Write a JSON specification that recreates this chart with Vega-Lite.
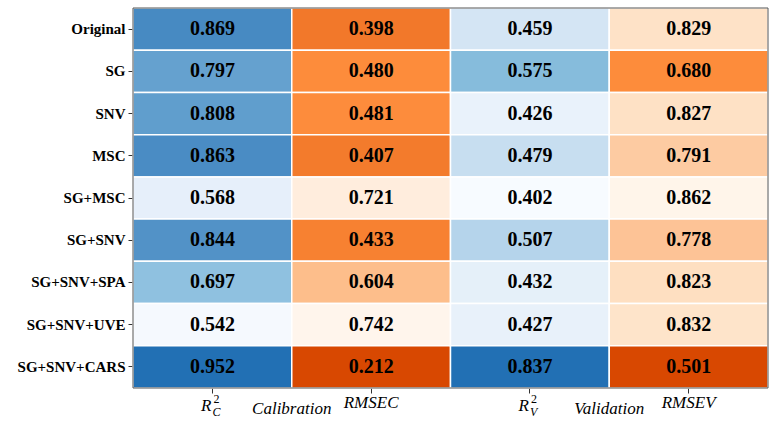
{
  "$schema": "https://vega.github.io/schema/vega-lite/v6.json",
  "autosize": {"type": "none"},
  "padding": {"left": 133, "top": 8, "right": 12, "bottom": 35},
  "width": 635,
  "height": 380,
  "background": "white",
  "config": {
    "view": {"stroke": null},
    "axis": {"zindex": 1},
    "font": "Times New Roman, Liberation Serif, serif"
  },
  "data": {
    "values": [
      {"method": "Original", "metric": "R2C", "value": 0.869},
      {"method": "Original", "metric": "RMSEC", "value": 0.398},
      {"method": "Original", "metric": "R2V", "value": 0.459},
      {"method": "Original", "metric": "RMSEV", "value": 0.829},
      {"method": "SG", "metric": "R2C", "value": 0.797},
      {"method": "SG", "metric": "RMSEC", "value": 0.480},
      {"method": "SG", "metric": "R2V", "value": 0.575},
      {"method": "SG", "metric": "RMSEV", "value": 0.680},
      {"method": "SNV", "metric": "R2C", "value": 0.808},
      {"method": "SNV", "metric": "RMSEC", "value": 0.481},
      {"method": "SNV", "metric": "R2V", "value": 0.426},
      {"method": "SNV", "metric": "RMSEV", "value": 0.827},
      {"method": "MSC", "metric": "R2C", "value": 0.863},
      {"method": "MSC", "metric": "RMSEC", "value": 0.407},
      {"method": "MSC", "metric": "R2V", "value": 0.479},
      {"method": "MSC", "metric": "RMSEV", "value": 0.791},
      {"method": "SG+MSC", "metric": "R2C", "value": 0.568},
      {"method": "SG+MSC", "metric": "RMSEC", "value": 0.721},
      {"method": "SG+MSC", "metric": "R2V", "value": 0.402},
      {"method": "SG+MSC", "metric": "RMSEV", "value": 0.862},
      {"method": "SG+SNV", "metric": "R2C", "value": 0.844},
      {"method": "SG+SNV", "metric": "RMSEC", "value": 0.433},
      {"method": "SG+SNV", "metric": "R2V", "value": 0.507},
      {"method": "SG+SNV", "metric": "RMSEV", "value": 0.778},
      {"method": "SG+SNV+SPA", "metric": "R2C", "value": 0.697},
      {"method": "SG+SNV+SPA", "metric": "RMSEC", "value": 0.604},
      {"method": "SG+SNV+SPA", "metric": "R2V", "value": 0.432},
      {"method": "SG+SNV+SPA", "metric": "RMSEV", "value": 0.823},
      {"method": "SG+SNV+UVE", "metric": "R2C", "value": 0.542},
      {"method": "SG+SNV+UVE", "metric": "RMSEC", "value": 0.742},
      {"method": "SG+SNV+UVE", "metric": "R2V", "value": 0.427},
      {"method": "SG+SNV+UVE", "metric": "RMSEV", "value": 0.832},
      {"method": "SG+SNV+CARS", "metric": "R2C", "value": 0.952},
      {"method": "SG+SNV+CARS", "metric": "RMSEC", "value": 0.212},
      {"method": "SG+SNV+CARS", "metric": "R2V", "value": 0.837},
      {"method": "SG+SNV+CARS", "metric": "RMSEV", "value": 0.501}
    ]
  },
  "encoding": {
    "x": {
      "field": "metric", "type": "nominal",
      "scale": {"domain": ["R2C", "RMSEC", "R2V", "RMSEV"], "paddingInner": 0, "paddingOuter": 0},
      "axis": {"labels": false, "title": null, "domain": false, "tickSize": 5, "tickColor": "#333", "tickWidth": 1}
    },
    "y": {
      "field": "method", "type": "nominal",
      "scale": {"domain": ["Original", "SG", "SNV", "MSC", "SG+MSC", "SG+SNV", "SG+SNV+SPA", "SG+SNV+UVE", "SG+SNV+CARS"], "paddingInner": 0, "paddingOuter": 0},
      "axis": {"title": null, "domain": false, "tickSize": 5, "tickColor": "#333", "labelPadding": 3, "labelFont": "Times New Roman, Liberation Serif, serif", "labelFontWeight": "bold", "labelFontSize": 15, "labelColor": "black"}
    }
  },
  "layer": [
    {
      "transform": [{"filter": "datum.metric == 'R2C'"}],
      "mark": {"type": "rect", "stroke": "white", "strokeWidth": 1.5},
      "encoding": {
        "color": {"field": "value", "type": "quantitative", "legend": null,
          "scale": {"domain": [0.542, 0.697, 0.952], "range": ["#f5f9fe", "#8fc1e0", "#2270b4"]}}
      }
    },
    {
      "transform": [{"filter": "datum.metric == 'RMSEC'"}],
      "mark": {"type": "rect", "stroke": "white", "strokeWidth": 1.5},
      "encoding": {
        "color": {"field": "value", "type": "quantitative", "legend": null,
          "scale": {"domain": [0.212, 0.48, 0.604, 0.742], "range": ["#d84801", "#fd8c3b", "#fdbe8b", "#fff5ec"]}}
      }
    },
    {
      "transform": [{"filter": "datum.metric == 'R2V'"}],
      "mark": {"type": "rect", "stroke": "white", "strokeWidth": 1.5},
      "encoding": {
        "color": {"field": "value", "type": "quantitative", "legend": null,
          "scale": {"domain": [0.402, 0.575, 0.837], "range": ["#f7fbff", "#86bcdc", "#2270b4"]}}
      }
    },
    {
      "transform": [{"filter": "datum.metric == 'RMSEV'"}],
      "mark": {"type": "rect", "stroke": "white", "strokeWidth": 1.5},
      "encoding": {
        "color": {"field": "value", "type": "quantitative", "legend": null,
          "scale": {"domain": [0.501, 0.68, 0.778, 0.862], "range": ["#d84801", "#fd8c3b", "#fdc396", "#fff5ea"]}}
      }
    },
    {
      "mark": {"type": "text", "font": "Times New Roman, Liberation Serif, serif", "fontWeight": "bold", "fontSize": 20, "color": "black", "baseline": "middle"},
      "encoding": {
        "text": {"field": "value", "type": "quantitative", "format": ".3f"}
      }
    },
    {
      "data": {"values": [{}]},
      "mark": {"type": "rect", "fill": null, "stroke": "#555", "strokeWidth": 1},
      "encoding": {
        "x": {"value": 0},
        "x2": {"value": "width"},
        "y": {"value": 0},
        "y2": {"value": "height"}
      }
    },
    {
      "data": {"values": [{"metric": "RMSEC", "label": "RMSEC"}, {"metric": "RMSEV", "label": "RMSEV"}]},
      "mark": {"type": "text", "font": "Times New Roman, Liberation Serif, serif", "fontStyle": "italic", "fontSize": 17, "color": "black", "baseline": "alphabetic", "dy": 20},
      "encoding": {
        "y": {"datum": "SG+SNV+CARS", "type": "nominal", "bandPosition": 1},
        "text": {"field": "label"}
      }
    },
    {
      "data": {"values": [{"metric": "R2C", "label": "R"}, {"metric": "R2V", "label": "R"}]},
      "mark": {"type": "text", "font": "Times New Roman, Liberation Serif, serif", "fontStyle": "italic", "fontSize": 17, "color": "black", "baseline": "alphabetic", "align": "right", "dx": -1, "dy": 23},
      "encoding": {
        "y": {"datum": "SG+SNV+CARS", "type": "nominal", "bandPosition": 1},
        "text": {"field": "label"}
      }
    },
    {
      "data": {"values": [{"metric": "R2C", "label": "2"}, {"metric": "R2V", "label": "2"}]},
      "mark": {"type": "text", "font": "Times New Roman, Liberation Serif, serif", "fontSize": 12, "color": "black", "baseline": "alphabetic", "align": "left", "dx": 1, "dy": 15},
      "encoding": {
        "y": {"datum": "SG+SNV+CARS", "type": "nominal", "bandPosition": 1},
        "text": {"field": "label"}
      }
    },
    {
      "data": {"values": [{"metric": "R2C", "label": "C"}, {"metric": "R2V", "label": "V"}]},
      "mark": {"type": "text", "font": "Times New Roman, Liberation Serif, serif", "fontStyle": "italic", "fontSize": 12, "color": "black", "baseline": "alphabetic", "align": "left", "dx": 0, "dy": 28},
      "encoding": {
        "y": {"datum": "SG+SNV+CARS", "type": "nominal", "bandPosition": 1},
        "text": {"field": "label"}
      }
    },
    {
      "data": {"values": [{"metric": "R2C", "label": "Calibration"}, {"metric": "R2V", "label": "Validation"}]},
      "mark": {"type": "text", "font": "Times New Roman, Liberation Serif, serif", "fontStyle": "italic", "fontSize": 17, "color": "black", "baseline": "alphabetic", "dy": 26},
      "encoding": {
        "x": {"field": "metric", "type": "nominal", "bandPosition": 1},
        "y": {"datum": "SG+SNV+CARS", "type": "nominal", "bandPosition": 1},
        "text": {"field": "label"}
      }
    }
  ],
  "resolve": {"scale": {"color": "independent"}}
}
